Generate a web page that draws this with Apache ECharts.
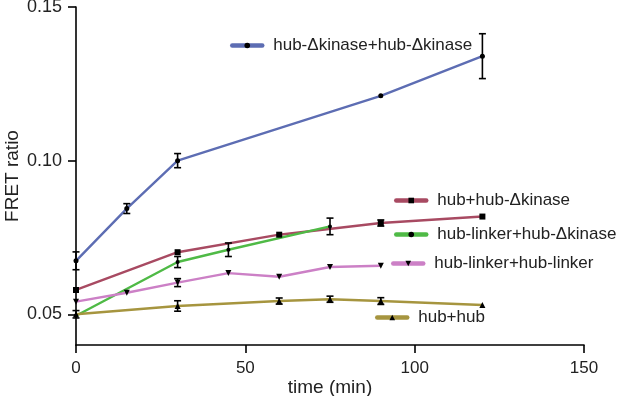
<!DOCTYPE html>
<html>
<head>
<meta charset="utf-8">
<script src="https://cdn.jsdelivr.net/npm/echarts@6/dist/echarts.min.js"></script>
<style>
  html, body { margin: 0; padding: 0; background: #fff; }
  #chart { width: 617px; height: 396px; }
</style>
</head>
<body>
<div id="chart"></div>
<script>
// data: [time (min), FRET ratio]
const blueName = 'hub-Δkinase+hub-Δkinase'
const redName = 'hub+hub-Δkinase'
const greenName = 'hub-linker+hub-Δkinase'
const pinkName = 'hub-linker+hub-linker'
const oliveName = 'hub+hub'

const blueData = [[0, 0.0674], [15, 0.0844], [30, 0.1000], [90, 0.1211], [120, 0.1340]]
const redData = [[0, 0.0579], [30, 0.0702], [60, 0.0759], [90, 0.0797], [120, 0.0818]]
const greenData = [[0, 0.0495], [30, 0.0670], [45, 0.0710], [75, 0.0786]]
const pinkData = [[0, 0.0541], [15, 0.0570], [30, 0.0603], [45, 0.0634], [60, 0.0622], [75, 0.0654], [90, 0.0658]]
const oliveData = [[0, 0.0500], [30, 0.0527], [60, 0.0543], [75, 0.0549], [90, 0.0543], [120, 0.0530]]

// error bars: [time, value, +/- error]
const errBars = [
  [0, 0.0674, 0.0029], [15, 0.0844, 0.0016], [30, 0.1000, 0.0023], [120, 0.1340, 0.0073],
  [90, 0.0797, 0.0010],
  [30, 0.0670, 0.0018], [45, 0.0710, 0.0022], [75, 0.0786, 0.0027],
  [30, 0.0603, 0.0013],
  [0, 0.0500, 0.0012], [30, 0.0527, 0.0017], [60, 0.0543, 0.0010], [75, 0.0549, 0.0010], [90, 0.0543, 0.0011]
]

const xTicks = [0, 50, 100, 150]
const yTicks = [0.05, 0.10, 0.15]

const font = 'Liberation Sans'
const txt = '#222'

const chart = echarts.init(document.getElementById('chart'))

const mkLegend = (name, left, cy) => ({
  data: [name],
  left: left,
  top: cy - 9,
  padding: 0,
  itemWidth: 30,
  itemHeight: 7,
  lineStyle: { width: 4.5, cap: 'round' },
  textStyle: { fontFamily: font, fontSize: 17, color: txt, padding: [0, 0, 0, 6] },
  selectedMode: false
})

const mkLine = (name, data, color, symbol, size, rot) => ({
  name: name,
  type: 'line',
  data: data,
  symbol: symbol,
  symbolSize: size,
  symbolRotate: rot || 0,
  showSymbol: true,
  lineStyle: { color: color, width: 2.4 },
  itemStyle: { color: '#000' },
  z: 2,
  animation: false
})

chart.setOption({
  backgroundColor: '#fff',
  animation: false,
  grid: { left: 76, right: 33, top: 7, bottom: 51, outerBoundsMode: 'none', containLabel: false },
  legend: [
    mkLegend(blueName, 230, 46),
    mkLegend(redName, 394, 201),
    mkLegend(greenName, 394, 235),
    mkLegend(pinkName, 391, 264),
    mkLegend(oliveName, 375, 318)
  ],
  xAxis: {
    type: 'value',
    min: 0,
    max: 150,
    interval: 50,
    name: 'time (min)',
    nameLocation: 'middle',
    nameGap: 33,
    nameMoveOverlap: false,
    nameTextStyle: { fontFamily: font, fontSize: 19, color: txt },
    axisLine: { lineStyle: { color: '#000', width: 1.6 } },
    axisTick: { length: 8, lineStyle: { color: '#000', width: 1.6 }, customValues: xTicks },
    axisLabel: { fontFamily: font, fontSize: 17, color: txt, margin: 15, customValues: xTicks },
    splitLine: { show: false }
  },
  yAxis: {
    type: 'value',
    min: 0.04,
    max: 0.15,
    name: 'FRET ratio',
    nameLocation: 'middle',
    nameGap: 54,
    nameMoveOverlap: false,
    nameTextStyle: { fontFamily: font, fontSize: 19, color: txt },
    axisLine: { show: true, lineStyle: { color: '#000', width: 1.6 } },
    axisTick: { show: true, length: 8, lineStyle: { color: '#000', width: 1.6 }, customValues: yTicks },
    axisLabel: {
      fontFamily: font, fontSize: 18, color: txt, margin: 14,
      customValues: yTicks,
      formatter: v => v.toFixed(2)
    },
    splitLine: { show: false }
  },
  series: [
    mkLine(blueName, blueData, '#5d6db3', 'circle', 5),
    mkLine(redName, redData, '#a84a62', 'rect', 6),
    mkLine(greenName, greenData, '#4fba46', 'circle', 4),
    mkLine(pinkName, pinkData, '#cc80c6', 'triangle', 6, 180),
    mkLine(oliveName, oliveData, '#a6953f', 'triangle', 6),
    {
      type: 'custom',
      data: errBars,
      z: 3,
      silent: true,
      animation: false,
      renderItem: (params, api) => {
        const x = api.value(0)
        const v = api.value(1)
        const e = api.value(2)
        const hi = api.coord([x, v + e])
        const lo = api.coord([x, v - e])
        const w = 3.5
        const st = { stroke: '#000', lineWidth: 1.6 }
        return {
          type: 'group',
          children: [
            { type: 'line', shape: { x1: hi[0], y1: hi[1], x2: lo[0], y2: lo[1] }, style: st },
            { type: 'line', shape: { x1: hi[0] - w, y1: hi[1], x2: hi[0] + w, y2: hi[1] }, style: st },
            { type: 'line', shape: { x1: lo[0] - w, y1: lo[1], x2: lo[0] + w, y2: lo[1] }, style: st }
          ]
        }
      }
    }
  ]
})
</script>
</body>
</html>
